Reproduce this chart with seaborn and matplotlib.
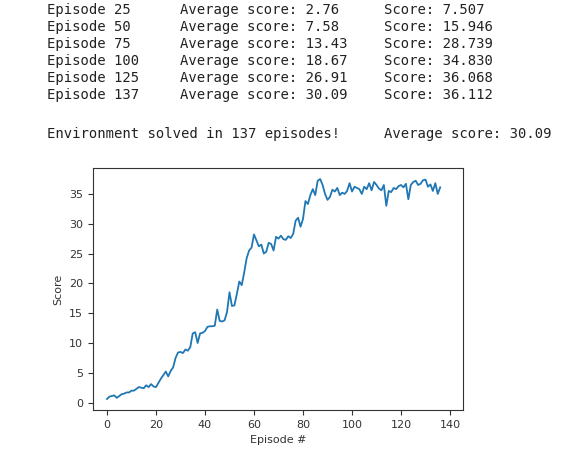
import matplotlib
matplotlib.use("Agg")
import matplotlib.pyplot as plt
import seaborn as sns
import pandas as pd

scores = [0.6,1.0,1.1,1.2,0.8,1.1,1.4,1.5,1.7,1.7,2.0,2.0,2.3,2.6,2.5,2.4,2.9,2.6,3.1,2.7,
          2.6,3.3,4.0,4.6,5.2,4.4,5.3,5.9,7.5,8.4,8.5,8.3,8.9,8.7,9.3,11.6,11.8,10.0,11.6,11.7,
          12.0,12.7,12.8,12.8,12.9,15.6,13.7,13.6,13.8,15.2,18.5,16.2,16.3,18.2,20.3,19.7,21.8,24.2,25.5,26.0,
          28.2,27.2,26.2,26.5,25.0,25.3,26.8,26.6,25.5,27.8,27.5,28.0,27.4,27.3,27.9,27.6,28.3,30.5,31.0,29.5,
          30.8,33.8,33.3,34.8,35.8,34.8,37.2,37.5,36.5,35.0,34.0,34.5,35.7,35.4,36.0,34.8,35.2,35.0,35.5,36.8,
          35.4,36.2,36.0,35.8,35.0,36.2,35.8,36.8,35.6,37.0,36.5,35.9,35.6,36.5,33.0,35.5,35.3,36.0,35.8,36.3,
          36.5,36.1,36.7,34.1,36.5,37.0,37.2,36.5,36.7,37.3,37.4,36.2,36.6,35.5,36.8,35.0,36.1]
episodes = list(range(len(scores)))

log_episodes = ["Episode 25", "Episode 50", "Episode 75", "Episode 100", "Episode 125", "Episode 137"]
log_avg = ["2.76", "7.58", "13.43", "18.67", "26.91", "30.09"]
log_score = ["7.507", "15.946", "28.739", "34.830", "36.068", "36.112"]

fig = plt.figure(figsize=(5.7, 4.54), dpi=100)
mono = "DejaVu Sans Mono"
tc = "#222222"
for i in range(len(log_episodes)):
    y = 1 - (10 + 17 * i) / 454
    fig.text(47 / 570, y, log_episodes[i], family=mono, fontsize=10, va="center", color=tc)
    fig.text(180 / 570, y, "Average score: " + log_avg[i], family=mono, fontsize=10, va="center", color=tc)
    fig.text(384 / 570, y, "Score: " + log_score[i], family=mono, fontsize=10, va="center", color=tc)
fig.text(47 / 570, 1 - 134 / 454, "Environment solved in 137 episodes!", family=mono, fontsize=10, va="center", color=tc)
fig.text(384 / 570, 1 - 134 / 454, "Average score: 30.09", family=mono, fontsize=10, va="center", color=tc)

ax = fig.add_axes([93 / 570, 1 - 410 / 454, 370 / 570, 242 / 454])
df = pd.DataFrame({"Episode #": episodes, "Score": scores})
sns.lineplot(data=df, x="Episode #", y="Score", ax=ax, color="#1f77b4", linewidth=1.3)
ax.set_xlim(-5.7, 145.3)
ax.set_xticks([0, 20, 40, 60, 80, 100, 120, 140])
ax.set_yticks([0, 5, 10, 15, 20, 25, 30, 35])
ax.tick_params(labelsize=8, colors="#333333")
for s in ax.spines.values():
    s.set_color("#333333")
ax.set_xlabel("Episode #", fontsize=8, color="#333333")
ax.set_ylabel("Score", fontsize=8, color="#333333")
fig.savefig("out.png", dpi=100)
